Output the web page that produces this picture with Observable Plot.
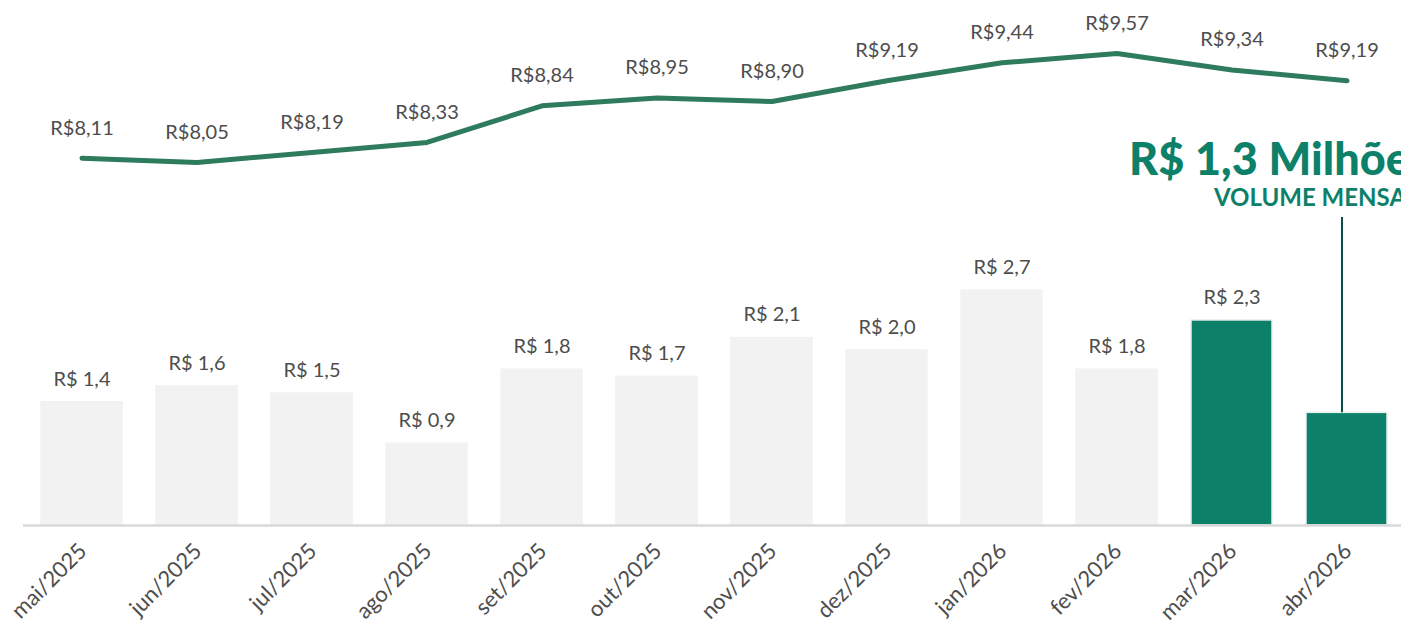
<!DOCTYPE html>
<html>
<head>
<meta charset="utf-8">
<script src="https://cdn.jsdelivr.net/npm/d3@7"></script>
<script src="https://cdn.jsdelivr.net/npm/@observablehq/plot@0.6"></script>
<style>
  html, body { margin: 0; padding: 0; background: #ffffff; overflow: hidden; }
  #chart svg { display: block; overflow: hidden; }
</style>
</head>
<body>
<div id="chart"></div>
<script>
// ---- data ----
const months = ["mai/2025","jun/2025","jul/2025","ago/2025","set/2025","out/2025","nov/2025","dez/2025","jan/2026","fev/2026","mar/2026","abr/2026"];
const volume = [1.40, 1.58, 1.50, 0.93, 1.77, 1.69, 2.13, 1.99, 2.67, 1.77, 2.33, 1.28]; // R$ milhões
const price = [8.11, 8.05, 8.19, 8.33, 8.84, 8.95, 8.90, 9.19, 9.44, 9.57, 9.34, 9.19];
const highlighted = ["mar/2026", "abr/2026"];
const headline = "R$ 1,3 Milhões";
const headlineSub = "VOLUME MENSAL";
const currentMonth = "abr/2026";

const fmtVol = v => "R$ " + v.toFixed(1).replace(".", ",");
const fmtPrice = v => "R$" + v.toFixed(2).replace(".", ",");

// price placed on the upper band of the shared y scale
const priceToY = p => 4.125 + (p - 8.05) * 0.815;

const rows = months.map((m, i) => ({
  month: m,
  volume: volume[i],
  price: price[i],
  py: priceToY(price[i]),
  hi: highlighted.includes(m)
}));
const last = rows.find(d => d.month === currentMonth);

// annotation levels, in the shared y units
const headlineLevel = 4.15;
const leaderTop = 3.5;

const FONT = "Lato, 'Open Sans', sans-serif";
const GREEN = "#0c8068";
const TXT = "#4d4d4d";

const chart = Plot.plot({
  width: 1401,
  height: 627,
  marginTop: 0,
  marginBottom: 102,
  marginLeft: 0,
  marginRight: 0,
  style: { fontFamily: FONT, background: "#ffffff", overflow: "hidden" },
  x: { domain: months, range: [40, 1387], paddingInner: 0.3, paddingOuter: 0, label: null },
  y: { domain: [0, 525 / 88], axis: null },
  marks: [
    Plot.barY(rows, {
      x: "month", y: "volume",
      fill: d => d.hi ? GREEN : "#f2f2f2",
      stroke: d => d.hi ? "#e6f0ed" : "#f2f2f2",
      strokeWidth: 1.5
    }),
    Plot.ruleY([0], { stroke: "#d9d9d9", strokeWidth: 2.5, insetLeft: 23 }),
    Plot.text(rows.filter(d => d.month !== currentMonth), {
      x: "month", y: "volume", text: d => fmtVol(d.volume),
      dy: -23, fontSize: 20, fill: TXT
    }),
    Plot.line(rows, {
      x: "month", y: "py", stroke: "#2e7b5e", strokeWidth: 5, strokeLinecap: "round", strokeLinejoin: "round"
    }),
    Plot.text(rows, {
      x: "month", y: "py", text: d => fmtPrice(d.price),
      dy: -30, fontSize: 20, fill: TXT
    }),
    Plot.ruleX([last], {
      x: "month", y1: "volume", y2: () => leaderTop, dx: -5,
      stroke: "#0a4f45", strokeWidth: 2
    }),
    Plot.text([last], {
      x: "month", y: () => headlineLevel, text: () => headline,
      textAnchor: "start", dx: -218, fontSize: 45, fontWeight: 900,
      fill: GREEN, letterSpacing: "-2px"
    }),
    Plot.text([last], {
      x: "month", y: () => headlineLevel, text: () => headlineSub,
      textAnchor: "start", dx: -133, dy: 38, fontSize: 24, fontWeight: 700,
      fill: GREEN, letterSpacing: "-1.5px"
    }),
    Plot.axisX({
      tickSize: 0, tickPadding: 22, tickRotate: -45, fontSize: 22, fill: TXT, label: null, dx: 1
    })
  ]
});

document.getElementById("chart").appendChild(chart);
</script>
</body>
</html>
